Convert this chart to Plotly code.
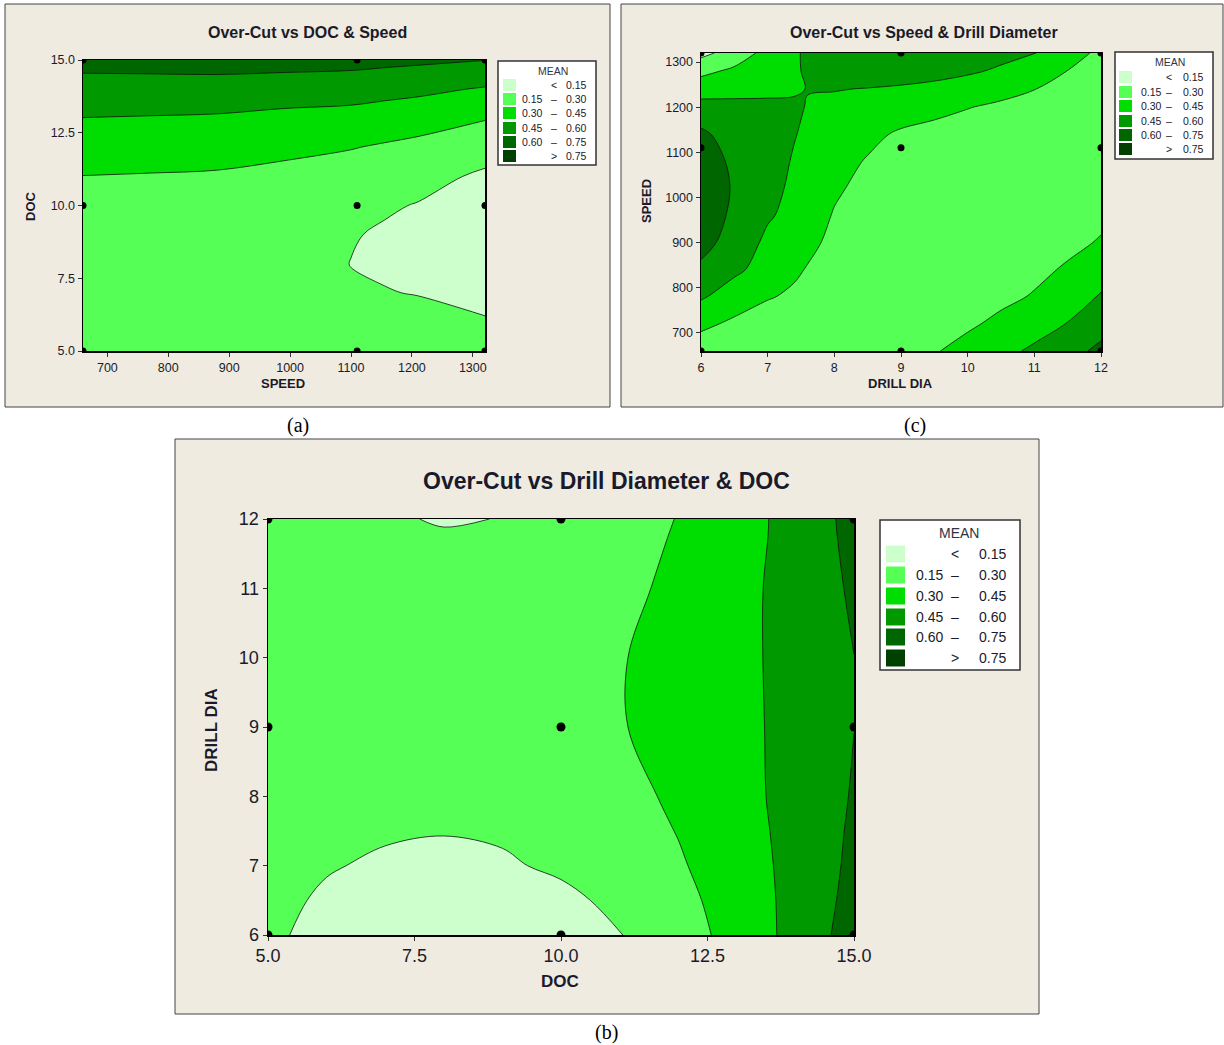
import plotly.graph_objects as go

W, H = 1224, 1045
BEIGE = "#EFEBE1"
FONT = "Liberation Sans, Arial, sans-serif"

# contour level colours and legend text
LEVEL_COLORS = ["#CCFFCC", "#55FF55", "#00DD00", "#009900", "#006600", "#004000"]
LEVEL_LOW = ["", "0.15", "0.30", "0.45", "0.60", ""]
LEVEL_SEP = ["<", "\u2013", "\u2013", "\u2013", "\u2013", ">"]
LEVEL_HIGH = ["0.15", "0.30", "0.45", "0.60", "0.75", "0.75"]

# ---------------- (a) Over-Cut vs DOC & Speed ----------------
A_SPEED = [660, 770, 880, 990, 1100, 1155, 1210, 1320]
A_DOC = [5, 6, 7, 8, 9, 10, 11, 12, 13, 14, 15]
A_Z = [
    [0.250, 0.260, 0.270, 0.270, 0.261, 0.263, 0.266, 0.252],
    [0.240, 0.245, 0.250, 0.235, 0.202, 0.197, 0.193, 0.163],
    [0.235, 0.235, 0.235, 0.205, 0.166, 0.155, 0.145, 0.101],
    [0.240, 0.235, 0.230, 0.190, 0.148, 0.134, 0.120, 0.067],
    [0.250, 0.240, 0.235, 0.195, 0.158, 0.136, 0.120, 0.060],
    [0.270, 0.260, 0.250, 0.220, 0.185, 0.164, 0.144, 0.080],
    [0.298, 0.292, 0.285, 0.265, 0.235, 0.213, 0.192, 0.129],
    [0.370, 0.362, 0.355, 0.330, 0.306, 0.285, 0.264, 0.204],
    [0.448, 0.442, 0.435, 0.415, 0.399, 0.380, 0.361, 0.308],
    [0.540, 0.537, 0.535, 0.520, 0.513, 0.497, 0.482, 0.438],
    [0.650, 0.657, 0.665, 0.660, 0.649, 0.637, 0.626, 0.602],
]
A_PTS_SPEED = [660, 1110, 1320]
A_PTS_DOC = [5, 10, 15]
A_XTICKS = [700, 800, 900, 1000, 1100, 1200, 1300]
A_YTICKS = [5, 7.5, 10, 12.5, 15]
A_YTEXT = ["5.0", "7.5", "10.0", "12.5", "15.0"]

# ---------------- (c) Over-Cut vs Speed & Drill Diameter ----------------
C_DIA = [6, 6.5, 7, 7.4, 7.6, 8, 8.5, 9, 9.5, 10, 10.5, 11, 11.5, 12]
C_SPEED = [660, 720, 780, 840, 900, 960, 1020, 1080, 1140, 1200, 1240, 1280, 1320]
C_Z = [
    [0.210, 0.200, 0.190, 0.182, 0.180, 0.180, 0.200, 0.240, 0.290, 0.345, 0.410, 0.475, 0.555, 0.630],
    [0.336, 0.270, 0.230, 0.205, 0.198, 0.190, 0.190, 0.210, 0.245, 0.280, 0.330, 0.390, 0.455, 0.550],
    [0.465, 0.385, 0.310, 0.278, 0.263, 0.235, 0.210, 0.200, 0.210, 0.235, 0.270, 0.310, 0.380, 0.462],
    [0.570, 0.475, 0.400, 0.320, 0.292, 0.255, 0.225, 0.205, 0.200, 0.210, 0.235, 0.270, 0.315, 0.390],
    [0.650, 0.540, 0.420, 0.360, 0.330, 0.270, 0.245, 0.220, 0.205, 0.200, 0.210, 0.235, 0.270, 0.310],
    [0.690, 0.570, 0.465, 0.410, 0.370, 0.290, 0.250, 0.225, 0.210, 0.200, 0.200, 0.210, 0.235, 0.275],
    [0.700, 0.585, 0.490, 0.425, 0.390, 0.320, 0.260, 0.230, 0.215, 0.205, 0.200, 0.200, 0.210, 0.225],
    [0.680, 0.570, 0.500, 0.440, 0.405, 0.350, 0.290, 0.250, 0.230, 0.215, 0.205, 0.200, 0.200, 0.205],
    [0.630, 0.530, 0.510, 0.455, 0.430, 0.385, 0.335, 0.280, 0.255, 0.235, 0.220, 0.210, 0.205, 0.200],
    [0.500, 0.490, 0.475, 0.480, 0.440, 0.420, 0.400, 0.375, 0.340, 0.305, 0.275, 0.250, 0.230, 0.215],
    [0.390, 0.405, 0.425, 0.430, 0.455, 0.455, 0.445, 0.430, 0.410, 0.380, 0.345, 0.302, 0.270, 0.245],
    [0.260, 0.330, 0.400, 0.430, 0.470, 0.490, 0.520, 0.520, 0.500, 0.470, 0.430, 0.360, 0.298, 0.260],
    [0.110, 0.210, 0.350, 0.430, 0.475, 0.510, 0.550, 0.560, 0.550, 0.520, 0.490, 0.455, 0.360, 0.270],
]
C_PTS_DIA = [6, 9, 12]
C_PTS_SPEED = [660, 1110, 1320]
C_XTICKS = [6, 7, 8, 9, 10, 11, 12]
C_YTICKS = [700, 800, 900, 1000, 1100, 1200, 1300]

# ---------------- (b) Over-Cut vs Drill Diameter & DOC ----------------
B_DOC = [5, 6, 7, 8, 9, 10, 11, 12, 13, 14, 15]
B_DIA = [6, 6.5, 7, 7.5, 8, 9, 10, 11, 11.75, 12]
B_Z = [
    [0.177, 0.104, 0.058, 0.039, 0.047, 0.082, 0.145, 0.234, 0.351, 0.496, 0.667],
    [0.190, 0.130, 0.090, 0.075, 0.085, 0.120, 0.180, 0.260, 0.360, 0.495, 0.645],
    [0.210, 0.160, 0.130, 0.120, 0.135, 0.170, 0.215, 0.285, 0.375, 0.495, 0.630],
    [0.230, 0.190, 0.165, 0.155, 0.165, 0.190, 0.235, 0.305, 0.385, 0.500, 0.620],
    [0.255, 0.220, 0.195, 0.185, 0.190, 0.210, 0.255, 0.325, 0.395, 0.505, 0.610],
    [0.270, 0.260, 0.250, 0.245, 0.245, 0.255, 0.290, 0.360, 0.405, 0.500, 0.599],
    [0.265, 0.245, 0.230, 0.225, 0.230, 0.245, 0.290, 0.360, 0.410, 0.500, 0.599],
    [0.250, 0.220, 0.200, 0.190, 0.195, 0.215, 0.260, 0.335, 0.405, 0.505, 0.620],
    [0.235, 0.200, 0.170, 0.158, 0.163, 0.185, 0.238, 0.313, 0.393, 0.500, 0.640],
    [0.230, 0.190, 0.160, 0.143, 0.152, 0.175, 0.230, 0.305, 0.390, 0.500, 0.645],
]
B_PTS_DOC = [5, 10, 15]
B_PTS_DIA = [6, 9, 12]
B_XTICKS = [5, 7.5, 10, 12.5, 15]
B_XTEXT = ["5.0", "7.5", "10.0", "12.5", "15.0"]
B_YTICKS = [6, 7, 8, 9, 10, 11, 12]


def px(x):
    return x / W


def py(y):
    return 1 - y / H


# stepwise colour scale: band midpoints land on 0, .2, .4, .6, .8, 1
CSCALE = []
for i, c in enumerate(LEVEL_COLORS):
    CSCALE.append([max(0.0, (i - 0.5) / 5), c])
    CSCALE.append([min(1.0, (i + 0.5) / 5), c])

panels = [
    dict(key="", x=A_SPEED, y=A_DOC, z=A_Z, px_=A_PTS_SPEED, py_=A_PTS_DOC,
         xr=[660, 1320], yr=[5, 15], xt=A_XTICKS, xtt=None, yt=A_YTICKS, ytt=A_YTEXT,
         dom=(83, 485, 60, 351), box=(5, 4, 610, 407),
         title="Over-Cut vs DOC & Speed", title_xy=(307, 33), tsize=16,
         xlab="SPEED", xlab_xy=(283, 383), ylab="DOC", ylab_xy=(30, 206), lsize=13,
         tick=12.5, msize=7,
         leg=dict(box=(498, 61, 596, 165), mean=(553, 71), sw=(503, 516), swh=12,
                  rows=[85, 99, 113, 128, 142, 156], xl=532, xs=554, xr=576, fs=10.5),
         cap="(a)", cap_xy=(298, 425)),
    dict(key="2", x=C_DIA, y=C_SPEED, z=C_Z, px_=C_PTS_DIA, py_=C_PTS_SPEED,
         xr=[6, 12], yr=[660, 1320], xt=C_XTICKS, xtt=None, yt=C_YTICKS, ytt=None,
         dom=(701, 1101, 53, 351), box=(621, 4, 1223, 407),
         title="Over-Cut vs Speed & Drill Diameter", title_xy=(924, 33), tsize=16,
         xlab="DRILL DIA", xlab_xy=(900, 383), ylab="SPEED", ylab_xy=(647, 201), lsize=13,
         tick=12.5, msize=7,
         leg=dict(box=(1115, 52, 1213, 159), mean=(1170, 62), sw=(1119, 1132), swh=12,
                  rows=[77, 92, 106, 121, 135, 149], xl=1151, xs=1169, xr=1193, fs=10.5),
         cap="(c)", cap_xy=(915, 425)),
    dict(key="3", x=B_DOC, y=B_DIA, z=B_Z, px_=B_PTS_DOC, py_=B_PTS_DIA,
         xr=[5, 15], yr=[6, 12], xt=B_XTICKS, xtt=B_XTEXT, yt=B_YTICKS, ytt=None,
         dom=(268, 854, 519, 935), box=(175, 439, 1039, 1014),
         title="Over-Cut vs Drill Diameter & DOC", title_xy=(606, 481), tsize=23,
         xlab="DOC", xlab_xy=(560, 981), ylab="DRILL DIA", ylab_xy=(211, 730), lsize=17,
         tick=18, msize=9,
         leg=dict(box=(880, 520, 1020, 670), mean=(959, 533), sw=(886, 905), swh=17,
                  rows=[554, 575, 596, 617, 637, 658], xl=929, xs=955, xr=992, fs=14),
         cap="(b)", cap_xy=(606, 1032)),
]

fig = go.Figure()
shapes = []
annotations = []
layout = dict(
    width=W, height=H, autosize=False,
    margin=dict(l=0, r=0, t=0, b=0, pad=0, autoexpand=False),
    paper_bgcolor="white", plot_bgcolor=BEIGE, showlegend=False,
    font=dict(family=FONT, color="#1a1a2a"),
)

for p in panels:
    k = p["key"]
    xa, ya = "x" + k, "y" + k
    fig.add_trace(go.Contour(
        x=p["x"], y=p["y"], z=p["z"], xaxis=xa, yaxis=ya,
        colorscale=CSCALE, showscale=False, autocontour=False,
        contours=dict(start=0.15, end=0.75, size=0.15, coloring="fill", showlines=True),
        line=dict(color="#111111", width=0.8, smoothing=1.0),
        hoverinfo="skip",
    ))
    xs = [a for a in p["px_"] for _ in p["py_"]]
    ys = [b for _ in p["px_"] for b in p["py_"]]
    fig.add_trace(go.Scatter(
        x=xs, y=ys, xaxis=xa, yaxis=ya, mode="markers", cliponaxis=True,
        marker=dict(color="black", size=p["msize"]), hoverinfo="skip",
    ))
    x0, x1, y0, y1 = p["dom"]
    common = dict(showgrid=False, zeroline=False, showline=True, mirror=True, automargin=False,
                  linecolor="black", linewidth=1.5, ticks="outside", ticklen=4,
                  tickcolor="#333", tickfont=dict(size=p["tick"], family=FONT, color="#1a1a2a"))
    xaxis = dict(domain=[px(x0), px(x1)], range=p["xr"], anchor=ya, tickvals=p["xt"], **common)
    if p["xtt"]:
        xaxis["ticktext"] = p["xtt"]
    yaxis = dict(domain=[py(y1), py(y0)], range=p["yr"], anchor=xa, tickvals=p["yt"], **common)
    if p["ytt"]:
        yaxis["ticktext"] = p["ytt"]
    layout["xaxis" + k] = xaxis
    layout["yaxis" + k] = yaxis

    bx0, by0, bx1, by1 = p["box"]
    shapes.append(dict(type="rect", xref="paper", yref="paper", layer="below",
                       x0=px(bx0), x1=px(bx1), y0=py(by1), y1=py(by0),
                       fillcolor=BEIGE, line=dict(color="#444", width=1)))
    annotations.append(dict(text="<b>%s</b>" % p["title"], x=px(p["title_xy"][0]), y=py(p["title_xy"][1]),
                            xref="paper", yref="paper", showarrow=False, xanchor="center", yanchor="middle",
                            font=dict(size=p["tsize"], family=FONT, color="#1a1a2a")))
    annotations.append(dict(text="<b>%s</b>" % p["xlab"], x=px(p["xlab_xy"][0]), y=py(p["xlab_xy"][1]),
                            xref="paper", yref="paper", showarrow=False, xanchor="center", yanchor="middle",
                            font=dict(size=p["lsize"], family=FONT, color="#1a1a2a")))
    annotations.append(dict(text="<b>%s</b>" % p["ylab"], x=px(p["ylab_xy"][0]), y=py(p["ylab_xy"][1]),
                            xref="paper", yref="paper", showarrow=False, xanchor="center", yanchor="middle",
                            textangle=-90, font=dict(size=p["lsize"], family=FONT, color="#1a1a2a")))
    annotations.append(dict(text=p["cap"], x=px(p["cap_xy"][0]), y=py(p["cap_xy"][1]),
                            xref="paper", yref="paper", showarrow=False, xanchor="center", yanchor="middle",
                            font=dict(size=20, family="Liberation Serif, Times New Roman, serif", color="black")))

    lg = p["leg"]
    lx0, ly0, lx1, ly1 = lg["box"]
    shapes.append(dict(type="rect", xref="paper", yref="paper",
                       x0=px(lx0), x1=px(lx1), y0=py(ly1), y1=py(ly0),
                       fillcolor="white", line=dict(color="#333", width=1.5)))
    annotations.append(dict(text="MEAN", x=px(lg["mean"][0]), y=py(lg["mean"][1]),
                            xref="paper", yref="paper", showarrow=False, xanchor="center", yanchor="middle",
                            font=dict(size=lg["fs"], family=FONT, color="#333344")))
    for i, ry in enumerate(lg["rows"]):
        shapes.append(dict(type="rect", xref="paper", yref="paper",
                           x0=px(lg["sw"][0]), x1=px(lg["sw"][1]),
                           y0=py(ry + lg["swh"] / 2), y1=py(ry - lg["swh"] / 2),
                           fillcolor=LEVEL_COLORS[i], line=dict(width=0)))
        for txt, xx in ((LEVEL_LOW[i], lg["xl"]), (LEVEL_SEP[i], lg["xs"]), (LEVEL_HIGH[i], lg["xr"])):
            if txt:
                annotations.append(dict(text=txt, x=px(xx), y=py(ry), xref="paper", yref="paper",
                                        showarrow=False, xanchor="center", yanchor="middle",
                                        font=dict(size=lg["fs"], family=FONT, color="#1a1a2a")))

layout["shapes"] = shapes
layout["annotations"] = annotations
fig.update_layout(**layout)
fig.write_html(
    "out.html",
    config={"displayModeBar": False, "staticPlot": True},
    post_script="document.body.style.margin='0px';document.body.style.padding='0px';"
                "document.body.style.overflow='hidden';",
)
